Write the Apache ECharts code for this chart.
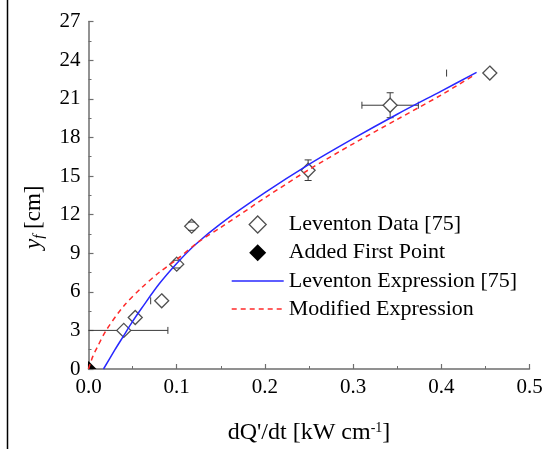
<!DOCTYPE html>
<html><head><meta charset="utf-8">
<script src="https://cdn.jsdelivr.net/npm/echarts@6/dist/echarts.min.js"></script>
<style>html,body{margin:0;padding:0;background:#fff}#c{width:546px;height:449px}</style>
</head><body><div id="c"></div>
<script>
// ---- data ----
const xTickLabels = ['0.0', '0.1', '0.2', '0.3', '0.4', '0.5'];
const yTickLabels = ['0', '3', '6', '9', '12', '15', '18', '21', '24', '27'];

const levX = [0.040, 0.053, 0.083, 0.100, 0.117, 0.249, 0.342, 0.455];
const levY = [3.0, 4.0, 5.3, 8.15, 11.1, 15.45, 20.5, 23.0];
const levXErr = [0.05, 0, 0, 0, 0, 0, 0.032, 0];
const levYErr = [0, 0, 0, 0.3, 0.32, 0.8, 0.97, 0];
// isolated error-bar caps visible without their bar
const capX = [0.0705, 0.406];
const capY = [5.3, 23.0];

const firstX = [0];
const firstY = [0];

const levExprX = [0.017, 0.03, 0.04, 0.05, 0.06, 0.08, 0.10, 0.12, 0.15, 0.20, 0.25, 0.30, 0.35, 0.40, 0.44];
const levExprY = [0, 1.5, 2.6, 3.7, 4.7, 6.6, 8.2, 9.6, 11.3, 13.7, 15.9, 17.9, 19.8, 21.6, 23.05];

const modExprX = [0, 0.005, 0.01, 0.02, 0.04, 0.06, 0.08, 0.10, 0.125, 0.15, 0.20, 0.25, 0.30, 0.35, 0.40, 0.435];
const modExprY = [0, 1.0, 1.7, 3.0, 4.9, 6.3, 7.5, 8.5, 9.9, 11.0, 13.3, 15.5, 17.5, 19.4, 21.3, 22.75];

// ---- build ----
const zip = (a, b) => a.map((v, i) => [v, b[i]]);
const FONT = '"Liberation Serif", "Times New Roman", serif';
const errData = levX.map((x, i) => [x, levY[i], x - levXErr[i], x + levXErr[i], levY[i] - levYErr[i], levY[i] + levYErr[i]]);
const ERR_COLOR = '#3a3a3a';
const HALF = 7, CAP = 3.5;
const BLUE = '#2828ff', RED = '#ff2a2a';

function errRender(params, api) {
  const x = api.value(0), y = api.value(1);
  const xl = api.value(2), xh = api.value(3), yl = api.value(4), yh = api.value(5);
  const cs = params.coordSys;
  const c = api.coord([x, y]);
  const kids = [];
  const st = { stroke: ERR_COLOR, lineWidth: 1 };
  const seg = (x1, y1, x2, y2) => kids.push({ type: 'line', shape: { x1, y1, x2, y2 }, style: st });
  if (xh > x) {
    let p = api.coord([xh, y])[0], capOn = true;
    if (p > cs.x + cs.width) { p = cs.x + cs.width; capOn = false; }
    if (p - c[0] > HALF) seg(c[0] + HALF, c[1], p, c[1]);
    if (capOn) seg(p, c[1] - CAP, p, c[1] + CAP);
  }
  if (xl < x) {
    let p = api.coord([xl, y])[0], capOn = true;
    if (p < cs.x) { p = cs.x; capOn = false; }
    if (c[0] - p > HALF) seg(c[0] - HALF, c[1], p, c[1]);
    if (capOn) seg(p, c[1] - CAP, p, c[1] + CAP);
  }
  if (yh > y) {
    const p = api.coord([x, yh])[1];
    if (c[1] - p > HALF) seg(c[0], c[1] - HALF, c[0], p);
    seg(c[0] - CAP, p, c[0] + CAP, p);
  }
  if (yl < y) {
    const p = api.coord([x, yl])[1];
    if (p - c[1] > HALF) seg(c[0], c[1] + HALF, c[0], p);
    seg(c[0] - CAP, p, c[0] + CAP, p);
  }
  return { type: 'group', children: kids };
}
function capRender(params, api) {
  const c = api.coord([api.value(0), api.value(1)]);
  return { type: 'line', shape: { x1: c[0], y1: c[1] - CAP, x2: c[0], y2: c[1] + CAP }, style: { stroke: ERR_COLOR, lineWidth: 1 } };
}
function firstRender(params, api) {
  const c = api.coord([api.value(0), api.value(1)]);
  return { type: 'polygon', shape: { points: [[c[0], c[1] - HALF - 1], [c[0] + HALF + 1, c[1]], [c[0], c[1] + HALF + 1], [c[0] - HALF - 1, c[1]]] },
    style: { fill: '#000' } };
}

const axisCommon = {
  axisLine: { show: true, onZero: false, lineStyle: { color: '#6e6e6e', width: 1.5 } },
  axisTick: { show: true, inside: true, length: 5, lineStyle: { color: '#6e6e6e', width: 1.2 } },
  minorTick: { show: true, splitNumber: 2, length: 3, lineStyle: { color: '#6e6e6e', width: 1 } },
  splitLine: { show: false },
  axisLabel: { fontFamily: FONT, fontSize: 21, color: '#000' }
};

const DIAMOND_ICON = 'path://M7,0 L14,7 L7,14 L0,7 Z';
const SOLID_ICON = 'path://M0,0 H52 V1.5 H0 Z';
const DASH_ICON = 'path://M0,0h5v1.5h-5z M9,0h5v1.5h-5z M18,0h5v1.5h-5z M27,0h5v1.5h-5z M36,0h5v1.5h-5z M45,0h5v1.5h-5z M52,0h0v1.5h0z';

const option = {
  animation: false,
  backgroundColor: '#fff',
  grid: { left: 88.5, right: 16.5, top: 21.6, bottom: 80, outerBoundsMode: 'none' },
  xAxis: Object.assign({}, axisCommon, {
    type: 'value', min: 0, max: 0.5, interval: 0.1,
    axisLabel: Object.assign({}, axisCommon.axisLabel, { margin: 8,
      formatter: v => xTickLabels[Math.round(v / 0.1)] }),
    name: "dQ'/dt [kW cm{s|-1}]",
    nameLocation: 'middle', nameGap: 52,
    nameTextStyle: { fontFamily: FONT, fontSize: 24, color: '#000',
      rich: { s: { fontFamily: FONT, fontSize: 14, verticalAlign: 'top', lineHeight: 12, color: '#000' } } }
  }),
  yAxis: Object.assign({}, axisCommon, {
    type: 'value', min: 0, max: 27, interval: 3,
    axisLabel: Object.assign({}, axisCommon.axisLabel, { margin: 8,
      formatter: v => yTickLabels[Math.round(v / 3)] }),
    name: '{i|y}{s|f}{n| [cm]}',
    nameLocation: 'middle', nameGap: 42, nameRotate: 90,
    nameTextStyle: { fontFamily: FONT, fontSize: 23, color: '#000', padding: [0, 44, 0, 0],
      rich: {
        i: { fontFamily: FONT, fontSize: 23, fontStyle: 'italic', lineHeight: 26, color: '#000' },
        s: { fontFamily: FONT, fontSize: 15, fontStyle: 'italic', verticalAlign: 'bottom', lineHeight: 14, color: '#000' },
        n: { fontFamily: FONT, fontSize: 23, lineHeight: 26, color: '#000' }
      } }
  }),
  legend: {
    orient: 'vertical', left: 226.7, top: 208.5,
    itemWidth: 52, itemHeight: 17, itemGap: 6.2, symbolKeepAspect: true,
    textStyle: { fontFamily: FONT, fontSize: 22, color: '#000', lineHeight: 22 },
    data: [
      { name: 'Leventon Data [75]', icon: DIAMOND_ICON, itemStyle: { color: '#fff', borderColor: '#505050', borderWidth: 1.3 } },
      { name: 'Added First Point', icon: DIAMOND_ICON, itemStyle: { color: '#000', borderWidth: 0 } },
      { name: 'Leventon Expression [75]', icon: SOLID_ICON, itemStyle: { color: BLUE, borderWidth: 0 } },
      { name: 'Modified Expression', icon: DASH_ICON, itemStyle: { color: RED, borderWidth: 0 } }
    ]
  },
  graphic: [{ type: 'line', shape: { x1: 7.5, y1: 0, x2: 7.5, y2: 449 }, style: { stroke: '#000', lineWidth: 1.5 } }],
  series: [
    { name: 'Leventon Data [75]', type: 'scatter', symbol: 'diamond', symbolSize: 14, z: 3,
      itemStyle: { color: '#fff', borderColor: '#505050', borderWidth: 1.3, opacity: 1 },
      data: zip(levX, levY) },
    { name: 'Added First Point', type: 'custom', z: 3, clip: true, renderItem: firstRender,
      itemStyle: { color: '#000' }, data: zip(firstX, firstY) },
    { type: 'custom', z: 4, renderItem: errRender, data: errData, silent: true },
    { type: 'custom', z: 4, renderItem: capRender, data: zip(capX, capY), silent: true },
    { name: 'Leventon Expression [75]', type: 'line', symbol: 'none', smooth: 0.3, z: 5,
      lineStyle: { color: BLUE, width: 1.5 }, itemStyle: { color: BLUE },
      data: zip(levExprX, levExprY) },
    { name: 'Modified Expression', type: 'line', symbol: 'none', smooth: 0.3, z: 5,
      lineStyle: { color: RED, width: 1.5, type: [5, 4] }, itemStyle: { color: RED },
      data: zip(modExprX, modExprY) }
  ]
};
const chart = echarts.init(document.getElementById('c'));
chart.setOption(option);
</script></body></html>
